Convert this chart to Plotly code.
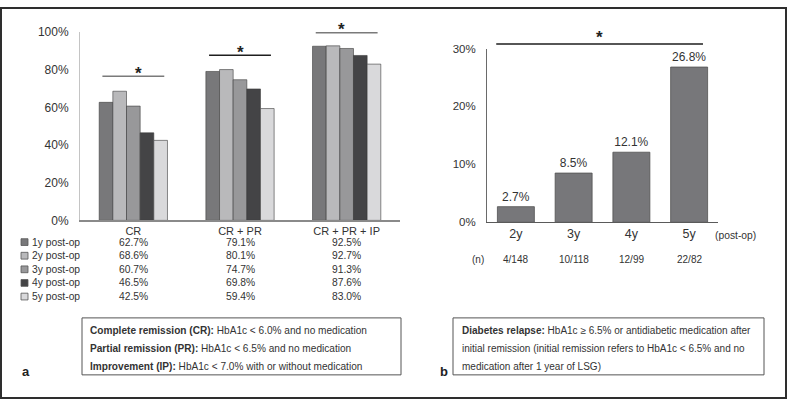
import plotly.graph_objects as go

# ---------------- data ----------------
categories_a = ["CR", "CR + PR", "CR + PR + IP"]
series_names = ["1y post-op", "2y post-op", "3y post-op", "4y post-op", "5y post-op"]
val_1y = [62.7, 79.1, 92.5]
val_2y = [68.6, 80.1, 92.7]
val_3y = [60.7, 74.7, 91.3]
val_4y = [46.5, 69.8, 87.6]
val_5y = [42.5, 59.4, 83.0]
series_values = [val_1y, val_2y, val_3y, val_4y, val_5y]
series_colors = ["#78787a", "#b9b9bb", "#98989a", "#444446", "#d9d9db"]
a_ticks = [0, 20, 40, 60, 80, 100]
a_sig_levels = [76.5, 87.7, 99.6]   # significance bars (y, %)

categories_b = ["2y", "3y", "4y", "5y"]
relapse = [2.7, 8.5, 12.1, 26.8]
relapse_n = ["4/148", "10/118", "12/99", "22/82"]
b_ticks = [0, 10, 20, 30]
b_sig_level = 30.8
b_sig_span = [-0.34, 3.24]

FONT = "Arial, Liberation Sans, sans-serif"
TXT = "#333333"
W, H = 787, 406


def px(x):
    return x / W


def py(y):
    return 1 - y / H


fig = go.Figure()

# ---------------- panel a bars ----------------
for name, vals, col in zip(series_names, series_values, series_colors):
    fig.add_trace(go.Bar(
        x=categories_a, y=vals, name=name, xaxis="x", yaxis="y",
        marker=dict(color=col, line=dict(color="rgba(60,60,60,0.75)", width=0.8)),
        hoverinfo="skip", showlegend=False,
    ))

# ---------------- panel b bars ----------------
fig.add_trace(go.Bar(
    x=categories_b, y=relapse, xaxis="x2", yaxis="y2",
    marker=dict(color="#77777a", line=dict(color="#505052", width=0.8)),
    text=[f"{v:.1f}%" for v in relapse], textposition="outside",
    textfont=dict(family=FONT, size=12, color=TXT), cliponaxis=False,
    hoverinfo="skip", showlegend=False,
))

shapes = []
annotations = []

# outer frame
shapes.append(dict(type="rect", xref="paper", yref="paper", x0=px(1), x1=px(786), y0=py(405), y1=py(1),
                   line=dict(color="#2e2e2e", width=2)))

# significance bars panel a
ncat_a = len(categories_a)
sig_colors_a = ["#7a7a7a", "#1e1e1e", "#7a7a7a"]
for i, lvl in enumerate(a_sig_levels):
    x0 = (i + 0.5 - 0.29) / ncat_a
    x1 = (i + 0.5 + 0.29) / ncat_a
    shapes.append(dict(type="line", xref="x domain", yref="y domain", x0=x0, x1=x1,
                       y0=lvl / 100, y1=lvl / 100, line=dict(color=sig_colors_a[i], width=1.5)))
    annotations.append(dict(xref="x domain", yref="y domain", x=(i + 0.5) / ncat_a, y=lvl / 100,
                            text="<b>*</b>", showarrow=False, yanchor="middle", yshift=3,
                            font=dict(family=FONT, size=17, color="#222")))

# significance bar panel b
ncat_b = len(categories_b)
bmax = b_ticks[-1]
shapes.append(dict(type="line", xref="x2 domain", yref="y2 domain",
                   x0=(b_sig_span[0] + 0.5) / ncat_b, x1=(b_sig_span[1] + 0.5) / ncat_b,
                   y0=b_sig_level / bmax, y1=b_sig_level / bmax, line=dict(color="#1e1e1e", width=1.5)))
annotations.append(dict(xref="x2 domain", yref="y2 domain", x=(sum(b_sig_span) / 2 + 0.5) / ncat_b,
                        y=b_sig_level / bmax, text="<b>*</b>", showarrow=False, yanchor="middle", yshift=6,
                        font=dict(family=FONT, size=17, color="#222")))

# data table panel a
row_y0, row_dy = 243.5, 14.1
for r, (name, vals, col) in enumerate(zip(series_names, series_values, series_colors)):
    yy = row_y0 + r * row_dy
    shapes.append(dict(type="rect", xref="paper", yref="paper", x0=px(21), x1=px(28),
                       y0=py(yy + 3.5), y1=py(yy - 3.5), fillcolor=col,
                       line=dict(color="#555", width=0.8)))
    annotations.append(dict(xref="paper", yref="paper", x=px(30), y=py(yy), text=name,
                            xanchor="left", yanchor="middle", showarrow=False,
                            font=dict(family=FONT, size=10.3, color=TXT)))
    for c, v in enumerate(vals):
        annotations.append(dict(xref="x domain", yref="paper", x=(c + 0.5) / ncat_a, y=py(yy),
                                text=f"{v:.1f}%", xanchor="center", yanchor="middle", showarrow=False,
                                font=dict(family=FONT, size=10.3, color=TXT)))

# n row panel b
for c, n in enumerate(relapse_n):
    annotations.append(dict(xref="x2 domain", yref="paper", x=(c + 0.5) / ncat_b, y=py(261),
                            text=n, xanchor="center", yanchor="middle", showarrow=False,
                            font=dict(family=FONT, size=10, color=TXT)))
annotations.append(dict(xref="paper", yref="paper", x=px(478), y=py(261), text="(n)",
                        xanchor="center", yanchor="middle", showarrow=False,
                        font=dict(family=FONT, size=10, color=TXT)))
annotations.append(dict(xref="paper", yref="paper", x=px(735), y=py(237), text="(post-op)",
                        xanchor="center", yanchor="middle", showarrow=False,
                        font=dict(family=FONT, size=10.3, color=TXT)))

# definition boxes
shapes.append(dict(type="rect", xref="paper", yref="paper", x0=px(82), x1=px(401), y0=py(381), y1=py(322),
                   line=dict(color="#555", width=1)))
shapes.append(dict(type="rect", xref="paper", yref="paper", x0=px(453), x1=px(764), y0=py(381), y1=py(322),
                   line=dict(color="#555", width=1)))
box_a_lines = [
    "<b>Complete remission (CR):</b> HbA1c &lt; 6.0% and no medication",
    "<b>Partial remission (PR):</b> HbA1c &lt; 6.5% and no medication",
    "<b>Improvement (IP):</b> HbA1c &lt; 7.0% with or without medication",
]
box_b_lines = [
    "<b>Diabetes relapse:</b> HbA1c ≥ 6.5% or antidiabetic medication after",
    "initial remission (initial remission refers to HbA1c &lt; 6.5% and no",
    "medication after 1 year of LSG)",
]
line_ys = [335, 353.5, 372]
for t, yy in zip(box_a_lines, line_ys):
    annotations.append(dict(xref="paper", yref="paper", x=px(88), y=py(yy), text=t, xanchor="left",
                            yanchor="middle", showarrow=False, font=dict(family=FONT, size=10.1, color=TXT)))
for t, yy in zip(box_b_lines, line_ys):
    annotations.append(dict(xref="paper", yref="paper", x=px(460), y=py(yy), text=t, xanchor="left",
                            yanchor="middle", showarrow=False, font=dict(family=FONT, size=10.0, color=TXT)))

annotations.append(dict(xref="paper", yref="paper", x=px(26), y=py(378), text="<b>a</b>",
                        showarrow=False, xanchor="center", yanchor="middle",
                        font=dict(family=FONT, size=13, color="#222")))
annotations.append(dict(xref="paper", yref="paper", x=px(444), y=py(377), text="<b>b</b>",
                        showarrow=False, xanchor="center", yanchor="middle",
                        font=dict(family=FONT, size=13, color="#222")))

fig.update_layout(
    width=W, height=H, margin=dict(l=0, r=0, t=0, b=0),
    paper_bgcolor="white", plot_bgcolor="white",
    barmode="group", bargap=0.36, bargroupgap=0,
    font=dict(family=FONT, color=TXT),
    xaxis=dict(domain=[px(80), px(400)], anchor="y", type="category", range=[-0.5, 2.5],
               showline=True, linecolor="#8a8a8a", linewidth=1.5, ticks="", showgrid=False,
               tickfont=dict(family=FONT, size=11, color=TXT), fixedrange=True),
    yaxis=dict(domain=[py(221), py(26)], anchor="x", range=[0, 100], tickvals=a_ticks,
               ticktext=[f"{t}%" for t in a_ticks], showline=True, linecolor="#c4c4c4", linewidth=1,
               showgrid=False, zeroline=False, ticks="", ticklabelstandoff=8,
               tickfont=dict(family=FONT, size=12, color=TXT), fixedrange=True),
    xaxis2=dict(domain=[px(487), px(718)], anchor="y2", type="category", range=[-0.5, 3.5],
                showline=True, linecolor="#5a5a5a", linewidth=1, ticks="", showgrid=False,
                tickfont=dict(family=FONT, size=12.5, color=TXT), fixedrange=True),
    yaxis2=dict(domain=[py(223), py(43)], anchor="x2", range=[0, bmax], tickvals=b_ticks,
                ticktext=[f"{t}%" for t in b_ticks], showline=True, linecolor="#6a6a6a", linewidth=1,
                showgrid=False, zeroline=False, ticks="", ticklabelstandoff=8,
                tickfont=dict(family=FONT, size=11.5, color=TXT), fixedrange=True),
    shapes=shapes, annotations=annotations,
)
page_css = ("var s=document.createElement('style');"
            "s.textContent='html,body{margin:0;padding:0;overflow:hidden;width:787px;height:406px;}';"
            "document.head.appendChild(s);")
fig.write_html("out.html", config={"displayModeBar": False}, post_script=page_css)
